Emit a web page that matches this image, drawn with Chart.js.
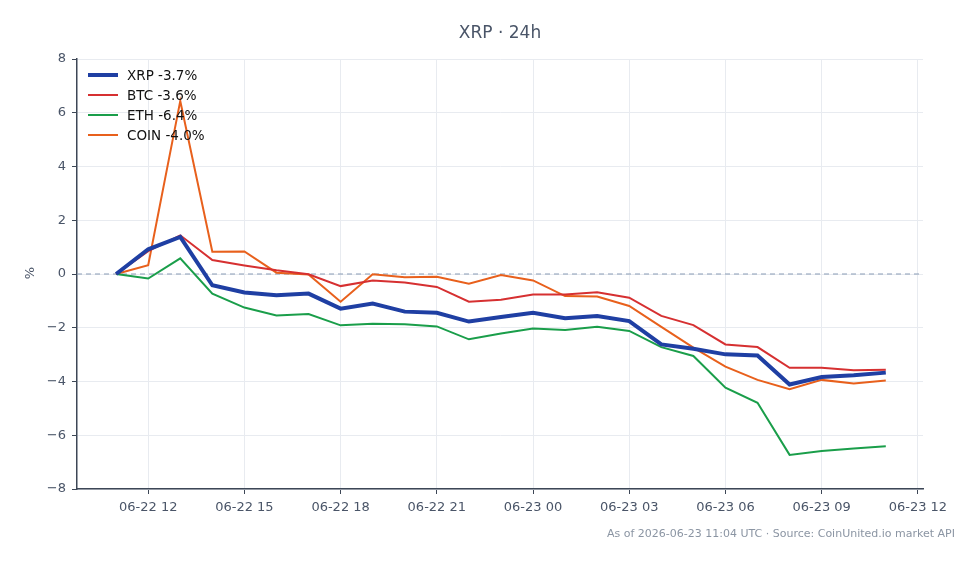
<!DOCTYPE html>
<html>
<head>
<meta charset="utf-8">
<script src="https://cdn.jsdelivr.net/npm/chart.js@4"></script>
<style>
html,body{margin:0;padding:0;background:#fff;}
#wrap{width:979px;height:564px;position:relative;}
</style>
</head>
<body>
<div id="wrap"><canvas id="c" width="979" height="564"></canvas></div>
<script>
// Hours since 2026-06-22 00:00 UTC (hourly samples)
const hours = [11,12,13,14,15,16,17,18,19,20,21,22,23,24,25,26,27,28,29,30,31,32,33,34,35];
const xrp  = [0,0.92,1.38,-0.42,-0.69,-0.79,-0.73,-1.29,-1.10,-1.40,-1.44,-1.77,-1.60,-1.44,-1.65,-1.56,-1.75,-2.62,-2.78,-2.99,-3.03,-4.11,-3.83,-3.77,-3.67];
const btc  = [0,0.85,1.44,0.52,0.32,0.14,-0.01,-0.45,-0.24,-0.32,-0.48,-1.03,-0.96,-0.76,-0.76,-0.68,-0.88,-1.56,-1.90,-2.62,-2.72,-3.49,-3.49,-3.58,-3.56];
const eth  = [0,-0.17,0.58,-0.73,-1.25,-1.54,-1.49,-1.91,-1.85,-1.87,-1.95,-2.43,-2.21,-2.03,-2.08,-1.96,-2.12,-2.72,-3.05,-4.23,-4.79,-6.73,-6.59,-6.49,-6.41];
const coin = [0,0.33,6.44,0.83,0.84,0.05,-0.02,-1.03,-0.01,-0.12,-0.10,-0.36,-0.04,-0.24,-0.82,-0.84,-1.19,-1.97,-2.74,-3.45,-3.94,-4.29,-3.94,-4.07,-3.96];
const seriesNames = ['XRP -3.7%','BTC -3.6%','ETH -6.4%','COIN -4.0%'];
const tickHours  = [12,15,18,21,24,27,30,33,36];
const tickLabels = ['06-22 12','06-22 15','06-22 18','06-22 21','06-23 00','06-23 03','06-23 06','06-23 09','06-23 12'];
const yTicks = [-8,-6,-4,-2,0,2,4,6,8];
const titleText = 'XRP · 24h';
const footText = 'As of 2026-06-23 11:04 UTC · Source: CoinUnited.io market API';

const colors = ['#1f3fa3','#d63031','#1a9e4a','#e8601c'];
const widths = [4,2,2,2];
const seriesData = [xrp, btc, eth, coin];

const FONT = '"DejaVu Sans", sans-serif';

const datasets = seriesData.map((arr, i) => ({
  label: seriesNames[i],
  data: arr.map((v, k) => ({x: hours[k], y: v})),
  borderColor: colors[i],
  backgroundColor: colors[i],
  borderWidth: widths[i],
  pointRadius: 0,
  tension: 0,
  fill: false
}));

const decor = {
  id: 'decor',
  beforeDatasetsDraw(chart) {
    const {ctx, chartArea, scales} = chart;
    const y0 = scales.y.getPixelForValue(0);
    ctx.save();
    ctx.strokeStyle = '#889bb4';
    ctx.lineWidth = 1;
    ctx.setLineDash([5,4]);
    ctx.beginPath();
    ctx.moveTo(chartArea.left, y0);
    ctx.lineTo(chartArea.right, y0);
    ctx.stroke();
    ctx.restore();
  },
  afterDraw(chart) {
    const {ctx, chartArea} = chart;
    ctx.save();
    // title
    ctx.fillStyle = '#4a5568';
    ctx.font = '17px ' + FONT;
    ctx.textAlign = 'center';
    ctx.textBaseline = 'middle';
    ctx.fillText(titleText, (chartArea.left + chartArea.right) / 2, 34);
    // footnote
    ctx.fillStyle = '#8b95a3';
    ctx.font = '11px ' + FONT;
    ctx.textAlign = 'right';
    ctx.fillText(footText, 955, 534);
    // y title
    ctx.save();
    ctx.translate(31, 273);
    ctx.rotate(-Math.PI / 2);
    ctx.fillStyle = '#4a5568';
    ctx.font = '13px ' + FONT;
    ctx.textAlign = 'center';
    ctx.fillText('%', 0, 0);
    ctx.restore();
    // legend
    ctx.font = '13.5px ' + FONT;
    ctx.textAlign = 'left';
    chart.data.datasets.forEach((ds, i) => {
      const yy = 75 + i * 20;
      ctx.strokeStyle = ds.borderColor;
      ctx.lineWidth = ds.borderWidth;
      ctx.beginPath();
      ctx.moveTo(88, yy);
      ctx.lineTo(118, yy);
      ctx.stroke();
      ctx.fillStyle = '#111111';
      ctx.fillText(ds.label, 127, yy + 1);
    });
    ctx.restore();
  }
};

new Chart(document.getElementById('c'), {
  type: 'line',
  data: {datasets},
  options: {
    responsive: false,
    animation: false,
    devicePixelRatio: 1,
    layout: {padding: {top: 59, right: 56, bottom: 0, left: 0}},
    plugins: {legend: {display: false}, tooltip: {enabled: false}, title: {display: false}},
    scales: {
      x: {
        type: 'linear',
        min: 9.78,
        max: 36.16,
        afterBuildTicks(scale) { scale.ticks = tickHours.map(v => ({value: v})); },
        afterFit(scale) { scale.height = 75; },
        ticks: {
          autoSkip: false,
          maxRotation: 0,
          color: '#4a5568',
          font: {family: FONT, size: 13},
          padding: 6,
          callback(v) { const k = tickHours.indexOf(v); return k >= 0 ? tickLabels[k] : ''; }
        },
        grid: {color: '#e8ebf0', lineWidth: 1, tickLength: 5, tickColor: '#3d4756', drawTicks: true},
        border: {color: '#3d4756', width: 1.5}
      },
      y: {
        min: -8,
        max: 8,
        afterBuildTicks(scale) { scale.ticks = yTicks.map(v => ({value: v})); },
        afterFit(scale) { scale.width = 77; },
        ticks: {
          color: '#4a5568',
          font: {family: FONT, size: 13},
          padding: 6,
          callback(v) { return String(v).replace('-', '\u2212'); }
        },
        grid: {color: '#e8ebf0', lineWidth: 1, tickLength: 5, tickColor: '#3d4756', drawTicks: true},
        border: {color: '#3d4756', width: 1.5}
      }
    }
  },
  plugins: [decor]
});
</script>
</body>
</html>
